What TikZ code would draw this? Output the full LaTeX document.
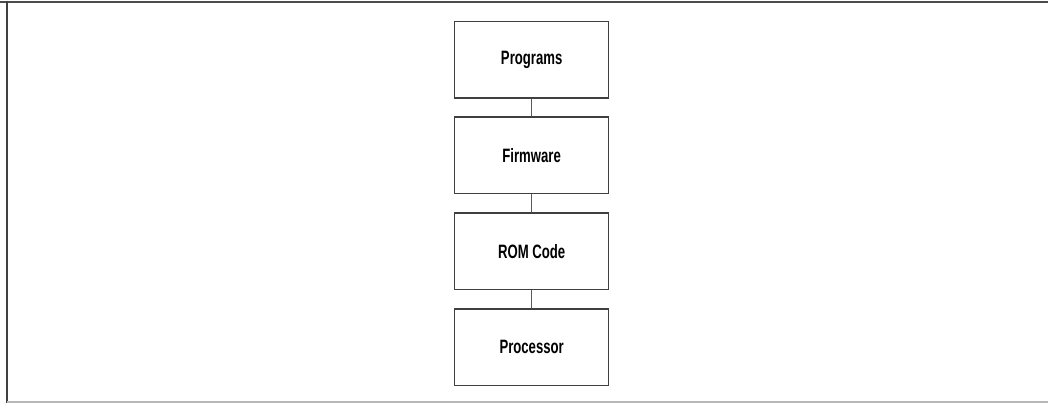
\documentclass[tikz,border=0pt]{standalone}
\usepackage{fontspec}
\setmainfont{Liberation Sans}[FakeStretch=0.68]
\begin{document}
\begin{tikzpicture}[x=0.75pt,y=-0.75pt,
  layer/.style={draw=black!75,line width=1pt,minimum width=154*0.75pt,minimum height=76.5*0.75pt,inner sep=0pt,font=\fontsize{14.5pt}{16pt}\selectfont\bfseries,anchor=north west},
  link/.style={draw=black!65,line width=1pt}]
\useasboundingbox (0,0) rectangle (1048,403);
\draw[black!70,line width=1.6pt] (0,1.6) -- (1048,1.6);
\draw[black!75,line width=1.6pt] (7,1) -- (7,403);
\draw[black!28,line width=1.2pt] (7,402.2) -- (1048,402.2);
\node[layer] (prog) at (454,20.7) {Programs};
\node[layer] (firm) at (454,116.3) {Firmware};
\node[layer] (rom) at (454,212.3) {ROM Code};
\node[layer] (proc) at (454,308.3) {Processor};
\draw[link] (prog) -- (firm);
\draw[link] (firm) -- (rom);
\draw[link] (rom) -- (proc);
\end{tikzpicture}
\end{document}
